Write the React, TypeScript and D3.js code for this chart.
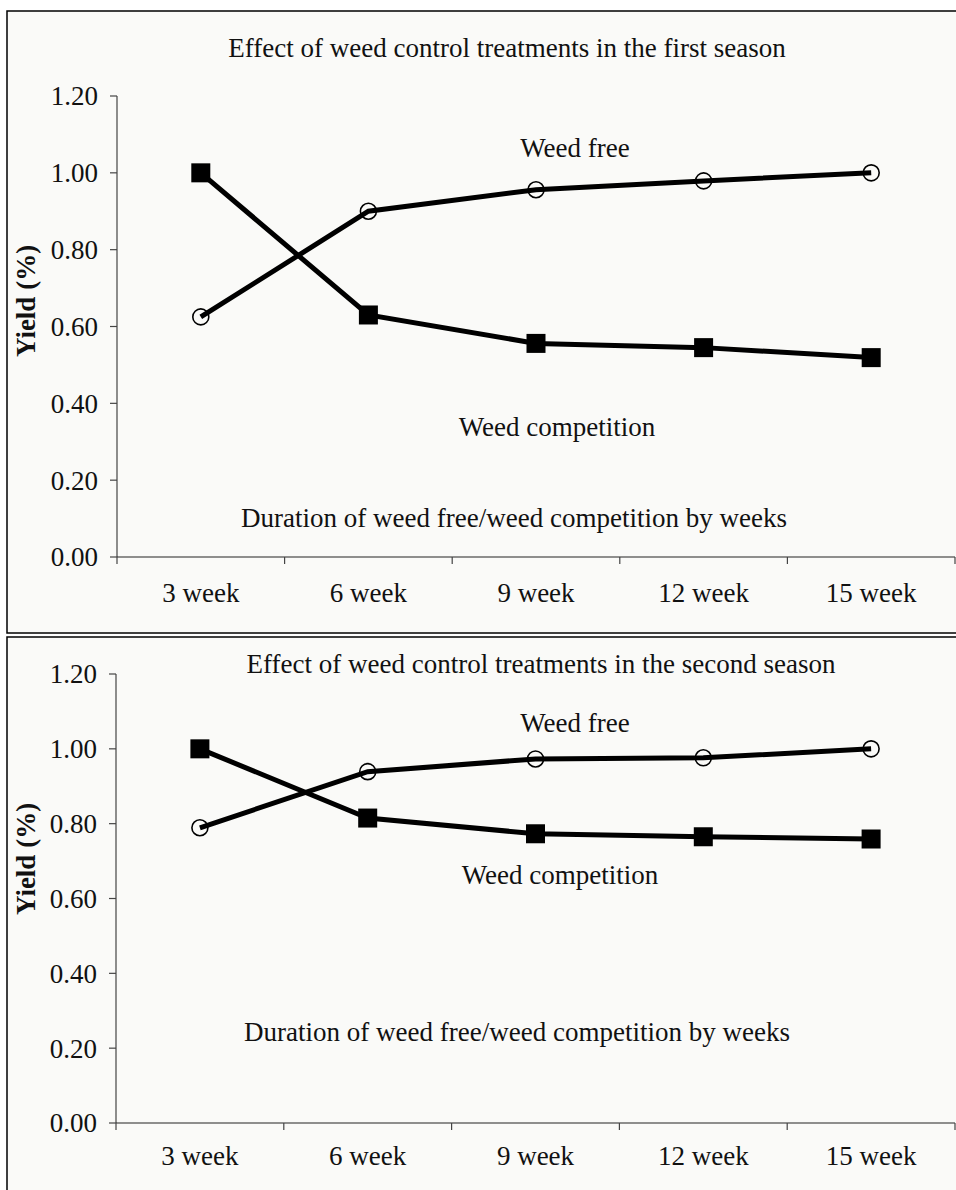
import React from "react";
import * as d3 from "d3";

const categories = ["3 week", "6 week", "9 week", "12 week", "15 week"];
const yTicks = [0, 0.2, 0.4, 0.6, 0.8, 1.0, 1.2];

const season1WeedFree = [0.625, 0.9, 0.956, 0.979, 1.0];
const season1WeedCompetition = [1.0, 0.63, 0.556, 0.545, 0.519];
const season2WeedFree = [0.789, 0.939, 0.973, 0.976, 1.0];
const season2WeedCompetition = [1.0, 0.815, 0.773, 0.765, 0.759];

const titles = [
  "Effect of weed control treatments in the first season",
  "Effect of weed control treatments in the second season",
];
const durationText = "Duration of weed free/weed competition by weeks";
const yLabel = "Yield (%)";

const FONT = "'Liberation Serif', 'Times New Roman', serif";

type PanelProps = {
  boxTop: number;
  boxBottom: number;
  y0: number;
  y12: number;
  xLeft: number;
  title: string;
  titleX: number;
  titleY: number;
  free: number[];
  comp: number[];
  freeLabel: [number, number];
  compLabel: [number, number];
  durLabel: [number, number];
  yLabelY: number;
  xLabelY: number;
};

function Panel(p: PanelProps) {
  const x = d3.scaleBand<string>().domain(categories).range([p.xLeft, 955]).padding(0);
  const y = d3.scaleLinear().domain([0, 1.2]).range([p.y0, p.y12]);
  const cx = (c: string) => (x(c) as number) + x.bandwidth() / 2;
  const line = d3
    .line<number>()
    .x((_, i) => cx(categories[i]))
    .y((d) => y(d));
  const fs = 27;
  const tickEdges = categories.map((c) => x(c) as number).concat([955]);
  return (
    <g>
      <rect
        x={7}
        y={p.boxTop}
        width={1000}
        height={p.boxBottom - p.boxTop}
        fill="#fafaf8"
        stroke="#000"
        strokeWidth={1.5}
      />
      <text x={p.titleX} y={p.titleY} textAnchor="middle" fontFamily={FONT} fontSize={fs} fill="#111">
        {p.title}
      </text>
      {/* y axis */}
      <line x1={p.xLeft} x2={p.xLeft} y1={y(1.2)} y2={y(0)} stroke="#444" strokeWidth={1.2} />
      {yTicks.map((t) => (
        <g key={t}>
          <line x1={p.xLeft - 7} x2={p.xLeft} y1={y(t)} y2={y(t)} stroke="#444" strokeWidth={1.2} />
          <text
            x={p.xLeft - 19}
            y={y(t)}
            dy="0.35em"
            textAnchor="end"
            fontFamily={FONT}
            fontSize={fs}
            fill="#111"
          >
            {t.toFixed(2)}
          </text>
        </g>
      ))}
      {/* x axis */}
      <line x1={p.xLeft} x2={955} y1={y(0)} y2={y(0)} stroke="#222" strokeWidth={1.2} />
      {tickEdges.map((e, i) => (
        <line key={i} x1={e} x2={e} y1={y(0)} y2={y(0) + 7} stroke="#444" strokeWidth={1.2} />
      ))}
      {categories.map((c) => (
        <text key={c} x={cx(c)} y={p.xLabelY} textAnchor="middle" fontFamily={FONT} fontSize={fs} fill="#111">
          {c}
        </text>
      ))}
      <text
        transform={`translate(${35},${p.yLabelY}) rotate(-90)`}
        textAnchor="middle"
        fontFamily={FONT}
        fontSize={fs}
        fontWeight="bold"
        fill="#111"
      >
        {yLabel}
      </text>
      {/* series */}
      <path d={line(p.comp) || ""} fill="none" stroke="#000" strokeWidth={5} />
      <path d={line(p.free) || ""} fill="none" stroke="#000" strokeWidth={5} />
      {p.comp.map((v, i) => (
        <rect key={"s" + i} x={cx(categories[i]) - 9.5} y={y(v) - 9.5} width={19} height={19} fill="#000" />
      ))}
      {p.free.map((v, i) => (
        <circle key={"c" + i} cx={cx(categories[i])} cy={y(v)} r={8} fill="none" stroke="#000" strokeWidth={1.6} />
      ))}
      <text x={p.freeLabel[0]} y={p.freeLabel[1]} textAnchor="middle" fontFamily={FONT} fontSize={fs} fill="#111">
        Weed free
      </text>
      <text x={p.compLabel[0]} y={p.compLabel[1]} textAnchor="middle" fontFamily={FONT} fontSize={fs} fill="#111">
        Weed competition
      </text>
      <text x={p.durLabel[0]} y={p.durLabel[1]} textAnchor="middle" fontFamily={FONT} fontSize={fs} fill="#111">
        {durationText}
      </text>
    </g>
  );
}

export default function App() {
  return (
    <svg width={956} height={1190} style={{ position: "absolute", left: 0, top: 0, background: "#fff" }}>
      <Panel
        boxTop={11}
        boxBottom={633}
        y0={557}
        y12={96}
        xLeft={117}
        title={titles[0]}
        titleX={507}
        titleY={57}
        free={season1WeedFree}
        comp={season1WeedCompetition}
        freeLabel={[575, 157]}
        compLabel={[557, 436]}
        durLabel={[514, 527]}
        yLabelY={301}
        xLabelY={602}
      />
      <Panel
        boxTop={637}
        boxBottom={1200}
        y0={1123}
        y12={674}
        xLeft={116}
        title={titles[1]}
        titleX={541}
        titleY={673}
        free={season2WeedFree}
        comp={season2WeedCompetition}
        freeLabel={[575, 732]}
        compLabel={[560, 884]}
        durLabel={[517, 1041]}
        yLabelY={859}
        xLabelY={1165}
      />
    </svg>
  );
}
